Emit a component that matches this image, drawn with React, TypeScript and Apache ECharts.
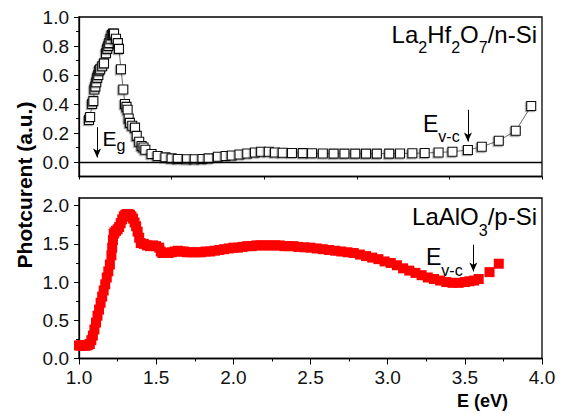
import React, { useEffect, useRef } from 'react';
import * as echarts from 'echarts';

const FONT = '"Liberation Sans", Arial, Helvetica, sans-serif';

// La2Hf2O7/n-Si photocurrent: [E (eV), value]
const topPoints: [number, number][] = [
  [1.065, 0.29], [1.072, 0.31], [1.085, 0.40], [1.093, 0.42], [1.100, 0.50], [1.106, 0.52],
  [1.112, 0.55], [1.118, 0.58], [1.125, 0.60], [1.131, 0.63], [1.137, 0.64], [1.150, 0.66],
  [1.162, 0.68], [1.175, 0.75], [1.183, 0.78], [1.190, 0.80], [1.196, 0.82], [1.204, 0.85],
  [1.212, 0.875], [1.220, 0.885], [1.227, 0.885], [1.240, 0.85], [1.252, 0.82], [1.259, 0.78],
  [1.272, 0.64], [1.287, 0.50], [1.298, 0.40], [1.308, 0.38], [1.315, 0.36], [1.322, 0.30],
  [1.330, 0.27], [1.345, 0.25], [1.363, 0.237], [1.374, 0.18], [1.390, 0.14], [1.406, 0.11],
  [1.418, 0.10], [1.430, 0.085], [1.47, 0.055], [1.51, 0.041], [1.56, 0.032], [1.60, 0.025],
  [1.64, 0.021], [1.70, 0.019], [1.75, 0.019], [1.80, 0.021], [1.84, 0.025], [1.90, 0.036],
  [1.95, 0.041], [1.99, 0.045], [2.04, 0.052], [2.09, 0.059], [2.14, 0.066], [2.18, 0.071],
  [2.23, 0.071], [2.27, 0.066], [2.32, 0.064], [2.38, 0.062], [2.45, 0.061], [2.51, 0.060],
  [2.58, 0.059], [2.65, 0.058], [2.72, 0.058], [2.79, 0.058], [2.86, 0.058], [2.93, 0.058],
  [3.01, 0.058], [3.08, 0.059], [3.16, 0.060], [3.24, 0.062], [3.33, 0.066], [3.42, 0.071],
  [3.52, 0.083], [3.61, 0.105], [3.72, 0.147], [3.83, 0.216], [3.93, 0.386],
];

// LaAlO3/p-Si photocurrent: [E (eV), value]
const bottomPoints: [number, number][] = [
  [1.00, 0.17], [1.01, 0.17], [1.02, 0.17], [1.03, 0.17], [1.04, 0.17], [1.05, 0.17],
  [1.06, 0.18], [1.07, 0.19], [1.08, 0.24], [1.09, 0.30], [1.10, 0.38], [1.11, 0.47],
  [1.12, 0.56], [1.13, 0.64], [1.14, 0.73], [1.15, 0.81], [1.16, 0.89], [1.17, 0.97],
  [1.18, 1.06], [1.19, 1.14], [1.20, 1.23], [1.21, 1.35], [1.215, 1.45], [1.22, 1.55],
  [1.225, 1.63], [1.23, 1.65], [1.24, 1.67], [1.25, 1.69], [1.26, 1.72], [1.27, 1.77],
  [1.28, 1.82], [1.29, 1.86], [1.30, 1.88], [1.31, 1.89], [1.32, 1.89], [1.33, 1.88],
  [1.34, 1.86], [1.35, 1.83], [1.36, 1.78], [1.37, 1.73], [1.38, 1.66], [1.39, 1.58],
  [1.40, 1.51], [1.42, 1.50], [1.44, 1.48], [1.46, 1.47], [1.48, 1.48], [1.50, 1.47],
  [1.52, 1.45], [1.53, 1.40], [1.54, 1.38], [1.56, 1.38], [1.58, 1.38], [1.60, 1.39],
  [1.62, 1.40], [1.64, 1.41], [1.66, 1.40], [1.68, 1.40], [1.70, 1.39], [1.73, 1.39],
  [1.76, 1.39], [1.79, 1.39], [1.82, 1.40], [1.85, 1.40], [1.88, 1.41], [1.91, 1.42],
  [1.94, 1.43], [1.97, 1.44], [2.00, 1.45], [2.03, 1.45], [2.06, 1.46], [2.09, 1.47],
  [2.12, 1.47], [2.15, 1.48], [2.18, 1.48], [2.21, 1.48], [2.24, 1.48], [2.27, 1.48],
  [2.30, 1.48], [2.33, 1.47], [2.36, 1.47], [2.39, 1.47], [2.42, 1.46], [2.46, 1.455],
  [2.50, 1.45], [2.54, 1.44], [2.58, 1.43], [2.62, 1.42], [2.66, 1.41], [2.70, 1.40],
  [2.74, 1.39], [2.78, 1.38], [2.82, 1.36], [2.86, 1.34], [2.90, 1.32], [2.94, 1.30],
  [2.98, 1.27], [3.02, 1.25], [3.06, 1.22], [3.10, 1.18], [3.14, 1.15], [3.18, 1.12],
  [3.22, 1.09], [3.26, 1.06], [3.30, 1.04], [3.34, 1.02], [3.38, 1.00], [3.42, 0.99],
  [3.46, 0.99], [3.50, 1.00], [3.53, 1.01], [3.56, 1.02], [3.59, 1.04], [3.66, 1.13],
  [3.72, 1.24],
];

const topYTicks = [0, 0.2, 0.4, 0.6, 0.8, 1.0];
const topYMinor = [0.1, 0.3, 0.5, 0.7, 0.9];
const botYTicks = [0, 0.5, 1.0, 1.5, 2.0];
const botYMinor = [0.25, 0.75, 1.25, 1.75];

// arrows: [E, from value, tip value]
const arrowEg: [number, number, number] = [1.117, 0.24, 0.0];
const arrowTopEvc: [number, number, number] = [3.52, 0.36, 0.11];
const arrowBotEvc: [number, number, number] = [3.555, 1.49, 1.08];

// layout
const G_LEFT = 79;
const G_WIDTH = 463;
const TOP_GRID = { top: 17, height: 159.5, min: -0.1, max: 1.0 };
const BOT_GRID = { top: 198, height: 160.5, min: 0, max: 2.1 };
const ARROW_LEN = 9;

let measureCtx: CanvasRenderingContext2D | null = null;
function textWidth(t: string, size: number, weight = 'normal') {
  if (!measureCtx) measureCtx = document.createElement('canvas').getContext('2d');
  if (!measureCtx) return t.length * size * 0.55;
  measureCtx.font = `${weight} ${size}px "Liberation Sans", Arial`;
  return measureCtx.measureText(t).width;
}

type Seg = { t: string; sub?: boolean };
function richLabel(segs: Seg[], x: number, baseline: number, main: number, sub: number, drop: number, alignRight = false) {
  const total = segs.reduce((s, g) => s + textWidth(g.t, g.sub ? sub : main), 0);
  let cx = alignRight ? x - total : x;
  return segs.map((g) => {
    const size = g.sub ? sub : main;
    const b = g.sub ? baseline + drop : baseline;
    const el = {
      type: 'text',
      x: cx,
      y: b - 0.3465 * size,
      silent: true,
      z: 100,
      style: {
        text: g.t,
        fontSize: size,
        fontFamily: FONT,
        fill: '#000',
        align: 'left',
        verticalAlign: 'middle',
      },
    };
    cx += textWidth(g.t, size);
    return el;
  });
}

function arrowLine(a: [number, number, number], pxPerUnit: number) {
  const end = a[2] + (ARROW_LEN / 2) / pxPerUnit;
  return [
    { coord: [a[0], a[1]], symbol: 'none', lineStyle: { color: '#000', width: 1, type: 'solid' } },
    { coord: [a[0], end], symbol: 'arrow', symbolSize: [6, ARROW_LEN] },
  ];
}

export default function App() {
  const ref = useRef<HTMLDivElement>(null);
  useEffect(() => {
    document.body.style.margin = '0';
    if (!ref.current) return;
    const chart = echarts.init(ref.current, null, { renderer: 'svg' });
    const topPx = TOP_GRID.height / (TOP_GRID.max - TOP_GRID.min);
    const botPx = BOT_GRID.height / (BOT_GRID.max - BOT_GRID.min);
    const axisLine = { show: true, onZero: false, lineStyle: { color: '#000', width: 1.3 } };
    const tickLabel = { fontSize: 19, fontFamily: FONT, color: '#111' };
    const fmt = (v: number) => Number(v).toFixed(1);

    const option: any = {
      animation: false,
      backgroundColor: '#ffffff',
      grid: [
        { left: G_LEFT, width: G_WIDTH, top: TOP_GRID.top, height: TOP_GRID.height, show: true, borderColor: '#000', borderWidth: 1.3 },
        { left: G_LEFT, width: G_WIDTH, top: BOT_GRID.top, height: BOT_GRID.height, show: true, borderColor: '#000', borderWidth: 1.3 },
      ],
      xAxis: [
        {
          type: 'value', gridIndex: 0, min: 1, max: 4, interval: 0.6,
          axisLine, axisTick: { show: true, length: 3, lineStyle: { color: '#000', width: 1 } },
          axisLabel: { show: false }, splitLine: { show: false },
        },
        {
          type: 'value', gridIndex: 1, min: 1, max: 4, interval: 0.5,
          axisLine, axisTick: { show: true, length: 6, lineStyle: { color: '#000', width: 1 } },
          minorTick: { show: true, splitNumber: 2, length: 3, lineStyle: { color: '#000', width: 1 } },
          axisLabel: { ...tickLabel, margin: 9, formatter: fmt }, splitLine: { show: false }, minorSplitLine: { show: false },
        },
      ],
      yAxis: [
        {
          type: 'value', gridIndex: 0, position: 'left', min: TOP_GRID.min, max: TOP_GRID.max,
          axisLine, axisTick: { show: true, length: 5, customValues: topYTicks, lineStyle: { color: '#000', width: 1 } },
          axisLabel: { ...tickLabel, margin: 10, customValues: topYTicks, formatter: fmt }, splitLine: { show: false },
        },
        {
          type: 'value', gridIndex: 0, position: 'left', offset: 0, min: TOP_GRID.min, max: TOP_GRID.max,
          axisLine: { show: false, onZero: false }, axisTick: { show: true, length: 3, customValues: topYMinor, lineStyle: { color: '#000', width: 1 } },
          axisLabel: { show: false }, splitLine: { show: false },
        },
        {
          type: 'value', gridIndex: 1, position: 'left', min: BOT_GRID.min, max: BOT_GRID.max,
          axisLine, axisTick: { show: true, length: 5, customValues: botYTicks, lineStyle: { color: '#000', width: 1 } },
          axisLabel: { ...tickLabel, margin: 10, customValues: botYTicks, formatter: fmt }, splitLine: { show: false },
        },
        {
          type: 'value', gridIndex: 1, position: 'left', offset: 0, min: BOT_GRID.min, max: BOT_GRID.max,
          axisLine: { show: false, onZero: false }, axisTick: { show: true, length: 3, customValues: botYMinor, lineStyle: { color: '#000', width: 1 } },
          axisLabel: { show: false }, splitLine: { show: false },
        },
      ],
      series: [
        {
          type: 'line', xAxisIndex: 0, yAxisIndex: 0, data: topPoints,
          symbol: 'rect', symbolSize: 9, showSymbol: true, showAllSymbol: true,
          lineStyle: { color: '#444', width: 0.8 },
          itemStyle: { color: '#fff', borderColor: '#111', borderWidth: 1.1, shadowColor: 'rgba(0,0,0,0.35)', shadowBlur: 0, shadowOffsetX: -1.2, shadowOffsetY: 1.2 },
          z: 3,
          markLine: {
            silent: true, symbol: ['none', 'none'], label: { show: false }, animation: false,
            lineStyle: { color: '#000', width: 1.3, type: 'solid' },
            data: [
              { yAxis: 0, lineStyle: { color: '#000', width: 1.3, type: 'solid' } },
              arrowLine(arrowEg, topPx),
              arrowLine(arrowTopEvc, topPx),
            ],
          },
        },
        {
          type: 'scatter', xAxisIndex: 1, yAxisIndex: 2, data: bottomPoints,
          symbol: 'rect', symbolSize: 10, itemStyle: { color: '#ff0000', opacity: 1 },
          markLine: {
            silent: true, symbol: ['none', 'none'], label: { show: false }, animation: false,
            lineStyle: { color: '#000', width: 1, type: 'solid' },
            z: 10,
            data: [arrowLine(arrowBotEvc, botPx)],
          },
        },
      ],
      graphic: [
        ...richLabel([{ t: 'La' }, { t: '2', sub: true }, { t: 'Hf' }, { t: '2', sub: true }, { t: 'O' }, { t: '7', sub: true }, { t: '/n-Si' }], 537, 43, 24, 16, 10, true),
        ...richLabel([{ t: 'LaAlO' }, { t: '3', sub: true }, { t: '/p-Si' }], 537, 225, 24, 16, 11, true),
        ...richLabel([{ t: 'E' }, { t: 'g', sub: true }], 102.5, 146, 21, 16, 5),
        ...richLabel([{ t: 'E' }, { t: 'v-c', sub: true }], 423, 132, 23, 16, 10),
        ...richLabel([{ t: 'E' }, { t: 'v-c', sub: true }], 426, 265, 23, 16, 11),
        {
          type: 'text', x: 24.4, y: 185, rotation: Math.PI / 2, silent: true,
          style: { text: 'Photcurent (a.u.)', fontSize: 21, fontWeight: 'bold', fontFamily: FONT, fill: '#000', align: 'center', verticalAlign: 'middle' },
        },
        {
          type: 'text', x: 457, y: 401, silent: true,
          style: { text: 'E (eV)', fontSize: 18, fontWeight: 'bold', fontFamily: FONT, fill: '#000', align: 'left', verticalAlign: 'middle' },
        },
      ],
    };
    chart.setOption(option);
    return () => chart.dispose();
  }, []);
  return <div ref={ref} style={{ width: 563, height: 414 }} />;
}
